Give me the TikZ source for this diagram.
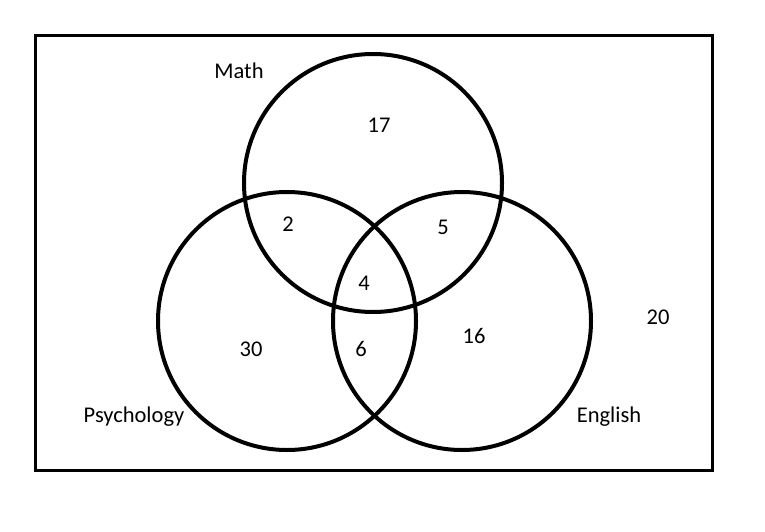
\documentclass[tikz,border=0pt]{standalone}
\usepackage{fontspec}
\setmainfont{Carlito}
\begin{document}
\begin{tikzpicture}[x=1pt,y=-1pt,
  lbl/.style={font=\fontsize{22.5}{26}\selectfont, inner sep=0pt},
  setcircle/.style={draw=black, line width=4pt}]
\useasboundingbox (0,0) rectangle (765,532);
\draw[line width=3pt] (35,36) rectangle (712,470);
\node[setcircle, circle, minimum size=258pt, inner sep=0pt] (math) at (373,183) {};
\node[setcircle, circle, minimum size=258pt, inner sep=0pt] (psych) at (287,321) {};
\node[setcircle, circle, minimum size=258pt, inner sep=0pt] (eng) at (462,321) {};
\node[lbl] (tmath) at (239,71) {Math};
\node[lbl] (tpsych) at (134,417) {Psychology};
\node[lbl] (teng) at (609,417) {English};
\node[lbl] (n20) at (658,317) {20};
\node[lbl] (n17) at (379,125) {17};
\node[lbl] (n2) at (288,224) {2};
\node[lbl] (n5) at (443,227) {5};
\node[lbl] (n4) at (364,283) {4};
\node[lbl] (n30) at (251,349) {30};
\node[lbl] (n6) at (361,349) {6};
\node[lbl] (n16) at (474,336) {16};
\end{tikzpicture}
\end{document}
